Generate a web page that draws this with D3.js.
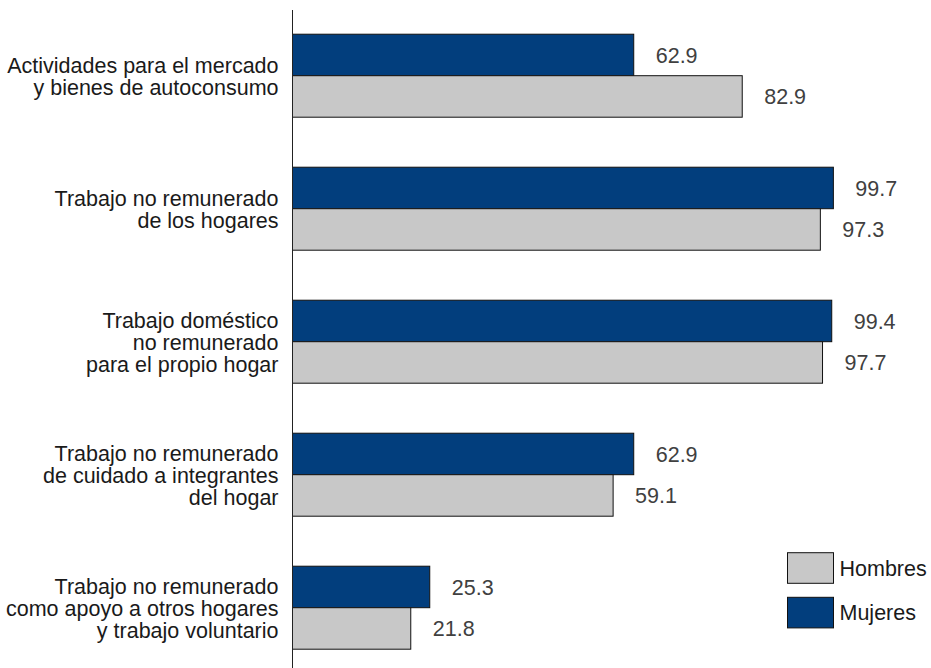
<!DOCTYPE html>
<html>
<head>
<meta charset="utf-8">
<script src="https://cdn.jsdelivr.net/npm/d3@7"></script>
<style>
  html, body { margin: 0; padding: 0; background: #ffffff; }
  svg { display: block; }
</style>
</head>
<body>
<svg id="chart" width="931" height="668"></svg>
<script>
const categories = [
  ["Actividades para el mercado", "y bienes de autoconsumo"],
  ["Trabajo no remunerado", "de los hogares"],
  ["Trabajo doméstico", "no remunerado", "para el propio hogar"],
  ["Trabajo no remunerado", "de cuidado a integrantes", "del hogar"],
  ["Trabajo no remunerado", "como apoyo a otros hogares", "y trabajo voluntario"]
];
const seriesNames = ["Mujeres", "Hombres"];
const mujeres = [62.9, 99.7, 99.4, 62.9, 25.3];
const hombres = [82.9, 97.3, 97.7, 59.1, 21.8];
const legendOrder = ["Hombres", "Mujeres"];

const colors = { Mujeres: "#023e7d", Hombres: "#c8c8c8" };
const font = "'Liberation Sans', Arial, sans-serif";
const fs = 21.5;

const svg = d3.select("#chart");
const idx = categories.map((d, i) => i);

const x = d3.scaleLinear().domain([0, 100]).range([292.5, 835]);
const y = d3.scaleBand().domain(idx).range([9.2, 674.2]).paddingInner(0.376).paddingOuter(0.188);
const ySub = d3.scaleBand().domain(seriesNames).range([0, y.bandwidth()]);

const values = { Mujeres: mujeres, Hombres: hombres };

const groups = svg.append("g").selectAll("g")
  .data(idx).join("g")
  .attr("transform", i => `translate(0,${y(i)})`);

seriesNames.forEach(s => {
  groups.append("rect")
    .attr("x", x(0))
    .attr("y", ySub(s))
    .attr("width", i => x(values[s][i]) - x(0))
    .attr("height", ySub.bandwidth())
    .attr("fill", colors[s])
    .attr("stroke", "#111")
    .attr("stroke-width", 1);
  groups.append("text")
    .attr("x", i => x(values[s][i]) + 22)
    .attr("y", ySub(s) + ySub.bandwidth() / 2)
    .attr("dy", "0.36em")
    .attr("font-family", font)
    .attr("font-size", fs)
    .attr("fill", "#404040")
    .text(i => values[s][i].toFixed(1));
});

// axis line
svg.append("line")
  .attr("x1", x(0)).attr("x2", x(0))
  .attr("y1", 10).attr("y2", 668)
  .attr("stroke", "#222").attr("stroke-width", 1);

// category labels
const lh = 22;
groups.append("text")
  .attr("text-anchor", "end")
  .attr("font-family", font)
  .attr("font-size", fs)
  .attr("fill", "#1a1a1a")
  .each(function(i) {
    const lines = categories[i];
    const t = d3.select(this);
    const c = y.bandwidth() / 2;
    lines.forEach((ln, k) => {
      t.append("tspan")
        .attr("x", 278.5)
        .attr("y", c + (k - (lines.length - 1) / 2) * lh)
        .attr("dy", "0.4em")
        .text(ln);
    });
  });

// legend
const legY = d3.scaleBand().domain(legendOrder).range([538.7, 641.9]).padding(0.314);
const leg = svg.append("g").selectAll("g").data(legendOrder).join("g")
  .attr("transform", d => `translate(787.5,${legY(d)})`);
leg.append("rect")
  .attr("width", 46).attr("height", legY.bandwidth())
  .attr("fill", d => colors[d]).attr("stroke", "#111").attr("stroke-width", 1);
leg.append("text")
  .attr("x", 52).attr("y", legY.bandwidth() / 2).attr("dy", "0.36em")
  .attr("font-family", font).attr("font-size", fs).attr("fill", "#1a1a1a")
  .text(d => d);
</script>
</body>
</html>
